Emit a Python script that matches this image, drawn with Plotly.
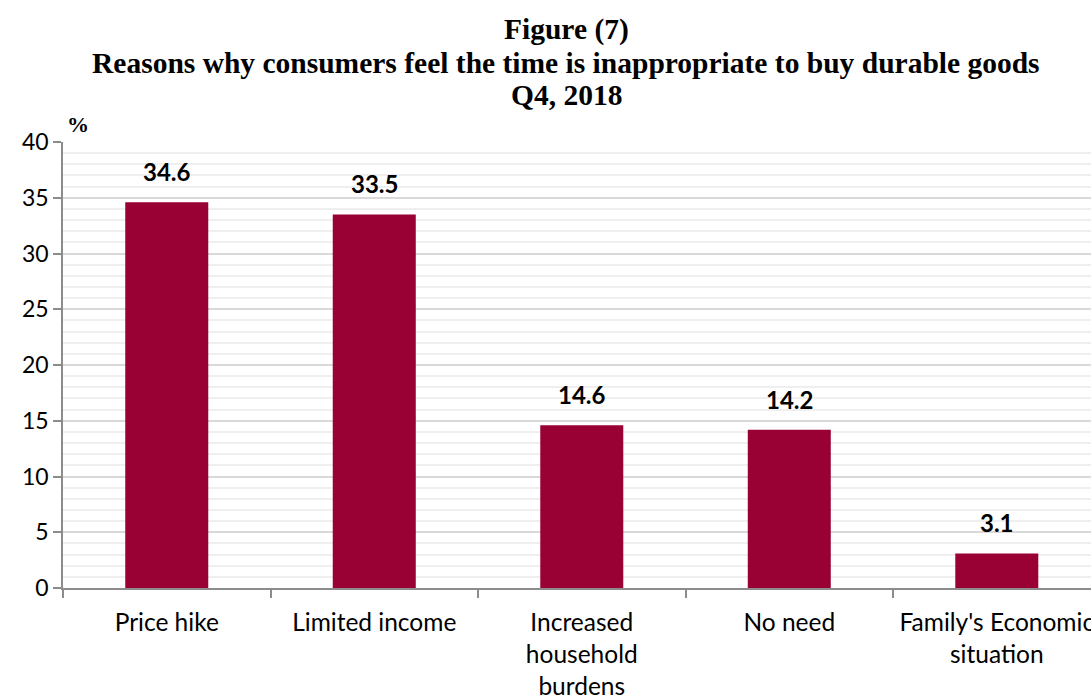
import plotly.graph_objects as go

categories = ["Price hike", "Limited income", "Increased<br>household<br>burdens", "No need", "Family's Economic<br>situation"]
values = [34.6, 33.5, 14.6, 14.2, 3.1]
value_labels = ["34.6", "33.5", "14.6", "14.2", "3.1"]
y_ticks = [0, 5, 10, 15, 20, 25, 30, 35, 40]
title_lines = ["Figure (7)", "Reasons why consumers feel the time is inappropriate to buy durable goods", "Q4, 2018"]

BAR = "#990033"
FONT = "Lato"
H = 695

fig = go.Figure()
fig.add_trace(go.Bar(x=categories, y=values, marker=dict(color=BAR, line=dict(width=0)), width=0.4))

for c, v, t in zip(categories, values, value_labels):
    fig.add_annotation(x=c, y=v, text="<b>%s</b>" % t, showarrow=False, yanchor="bottom", yshift=14,
                       font=dict(family=FONT, size=24, color="black"))

for i, line in enumerate(title_lines):
    ypix = 30 + 32.5 * i
    fig.add_annotation(xref="paper", yref="paper", x=(566 - 63) / 1028, y=(H - 107 - ypix) / (H - 142 - 107),
                       xanchor="center", yanchor="middle", text="<b>%s</b>" % line, showarrow=False,
                       font=dict(family="Liberation Serif", size=29.5, color="black"))

fig.add_annotation(xref="paper", yref="paper", x=0.002, y=1.0, yshift=3, xanchor="left", yanchor="bottom",
                   text="<b>%</b>", showarrow=False, font=dict(family="Liberation Serif", size=22, color="black"))

fig.update_layout(
    width=1091, height=H,
    margin=dict(l=63, r=0, t=142, b=107),
    plot_bgcolor="white", paper_bgcolor="white",
    showlegend=False,
    xaxis=dict(range=[-0.5, 4.454], automargin=False, showline=True, linecolor="#8c8c8c", linewidth=1.5,
               ticks="outside", tickson="boundaries", ticklen=8, tickcolor="#8c8c8c", tickwidth=1.5,
               ticklabelstandoff=12,
               tickfont=dict(family=FONT, size=24.5, color="black"), showgrid=False),
    yaxis=dict(range=[0, 40], automargin=False, tickvals=y_ticks, showline=True, linecolor="#8c8c8c", linewidth=1.5,
               ticks="outside", ticklen=8, tickcolor="#8c8c8c", tickwidth=1.5,
               tickfont=dict(family=FONT, size=23, color="black"),
               showgrid=True, gridcolor="#d9d9d9", gridwidth=1.5, zeroline=False,
               minor=dict(dtick=1, showgrid=True, gridcolor="#efefef", gridwidth=1.5, ticks="")),
)

fig.write_html("out.html")
